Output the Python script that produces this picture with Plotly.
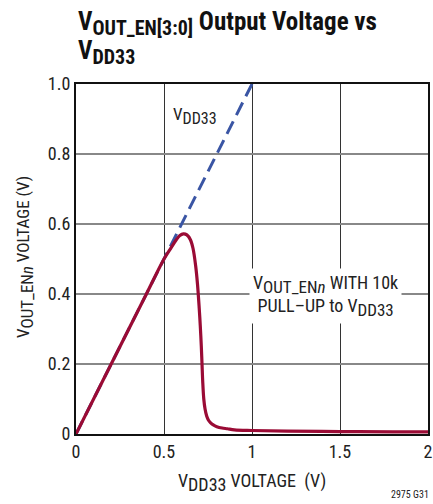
import plotly.graph_objects as go

# Data
vdd_x = [0.0, 1.0]
vdd_y = [0.0, 1.0]

out_x = [0.0, 0.1, 0.2, 0.3, 0.4, 0.5, 0.54, 0.57, 0.59, 0.61, 0.63, 0.65, 0.665, 0.68, 0.69, 0.70, 0.706, 0.712, 0.716, 0.72, 0.726, 0.733, 0.742, 0.752, 0.765, 0.78, 0.80, 0.83, 0.86, 0.9, 1.0, 1.2, 1.5, 1.8, 2.0]
out_y = [0.0, 0.1, 0.2, 0.3, 0.4, 0.5, 0.532, 0.555, 0.567, 0.572, 0.569, 0.555, 0.53, 0.48, 0.43, 0.36, 0.31, 0.25, 0.2, 0.15, 0.1, 0.072, 0.052, 0.04, 0.032, 0.026, 0.021, 0.017, 0.015, 0.012, 0.01, 0.008, 0.007, 0.006, 0.006]

x_ticks = [0, 0.5, 1, 1.5, 2]
x_tick_labels = ["0", "0.5", "1", "1.5", "2"]
y_ticks = [0, 0.2, 0.4, 0.6, 0.8, 1.0]
y_tick_labels = ["0", "0.2", "0.4", "0.6", "0.8", "1.0"]

FONT = "Roboto Condensed, DejaVu Sans Condensed, Liberation Sans Narrow, Liberation Sans, sans-serif"
TXT = "#222"

W, H = 433, 504
L, R, T, B = 76, 5, 84, 70


def sub(s, size):
    return "<sub><span style='font-size:%dpx'>%s</span></sub>" % (size, s)


fig = go.Figure()
fig.add_trace(go.Scatter(x=vdd_x, y=vdd_y, mode="lines",
                         line=dict(color="#3a55a4", width=3, dash="14px,7px"),
                         hoverinfo="skip", showlegend=False))
fig.add_trace(go.Scatter(x=out_x, y=out_y, mode="lines", line_shape="spline",
                         line=dict(color="#9a0b35", width=3.2),
                         hoverinfo="skip", showlegend=False))

fig.update_layout(
    width=W, height=H,
    margin=dict(l=L, r=R, t=T, b=B, autoexpand=False),
    paper_bgcolor="white", plot_bgcolor="white",
    font=dict(family=FONT, size=18, color=TXT),
    xaxis=dict(range=[0, 2], tickvals=x_ticks, ticktext=x_tick_labels,
               showgrid=True, gridcolor="#333", gridwidth=1,
               showline=True, linecolor="#111", linewidth=2, mirror=True,
               ticks="", zeroline=False, tickfont=dict(size=18),
               ticklabeloverflow="allow", automargin=False),
    yaxis=dict(range=[0, 1], tickvals=y_ticks, ticktext=y_tick_labels,
               showgrid=True, gridcolor="#888", gridwidth=1.5,
               showline=True, linecolor="#111", linewidth=2, mirror=True,
               ticks="", zeroline=False, tickfont=dict(size=18),
               ticklabeloverflow="allow", automargin=False),
)

PW, PH = 352.0, 350.0


def px(xp):
    return (xp - 76) / PW


def py(yp):
    return (434 - yp) / PH


# Title (two lines)
fig.add_annotation(xref="paper", yref="paper", x=px(76), y=py(24), xanchor="left", yanchor="middle",
                   showarrow=False, align="left",
                   text="<b>V" + sub("OUT_EN[3:0]", 20) + " Output Voltage vs</b>",
                   font=dict(family=FONT, size=25, color="#111"))
fig.add_annotation(xref="paper", yref="paper", x=px(76), y=py(52), xanchor="left", yanchor="middle",
                   showarrow=False, align="left",
                   text="<b>V" + sub("DD33", 20) + "</b>",
                   font=dict(family=FONT, size=25, color="#111"))

# Axis titles
fig.add_annotation(xref="paper", yref="paper", x=px(252), y=py(482), xanchor="center", yanchor="middle",
                   showarrow=False, text="V" + sub("DD33", 18) + " VOLTAGE  (V)",
                   font=dict(family=FONT, size=18, color=TXT))
fig.add_annotation(xref="paper", yref="paper", x=px(25), y=py(257), xanchor="center", yanchor="middle",
                   showarrow=False, textangle=-90,
                   text="V" + sub("OUT_EN<i>n</i>", 17) + " VOLTAGE (V)",
                   font=dict(family=FONT, size=17, color=TXT))

# In-plot labels
fig.add_annotation(x=0.54, y=0.91, xref="x", yref="y", xanchor="left", yanchor="middle", showarrow=False,
                   text="V" + sub("DD33", 16), font=dict(size=17, family=FONT, color=TXT))
fig.add_annotation(x=1.42, y=0.393, xref="x", yref="y", showarrow=False,
                   text="V" + sub("OUT_EN<i>n</i>", 17) + " WITH 10k<br>PULL\u2013UP to V" + sub("DD33", 17),
                   bgcolor="white", borderpad=3,
                   font=dict(size=18, family=FONT, color=TXT))
fig.add_annotation(xref="paper", yref="paper", x=px(431), y=py(502), xanchor="right", yanchor="bottom",
                   showarrow=False, text="2975 G31",
                   font=dict(size=10, family=FONT, color=TXT))

fig.write_html("out.html",
               config={"displayModeBar": False},
               post_script="document.body.style.margin='0';document.body.style.overflow='hidden';")
